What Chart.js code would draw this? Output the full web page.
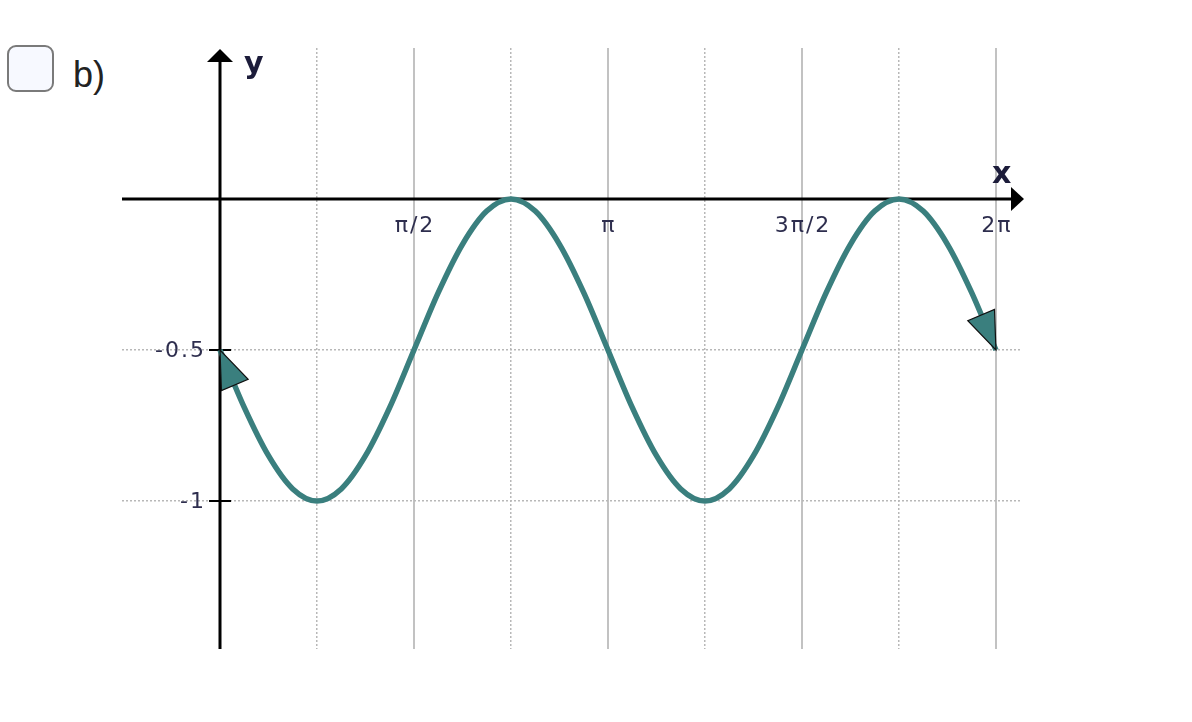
<!DOCTYPE html>
<html>
<head>
<meta charset="utf-8">
<script src="https://cdn.jsdelivr.net/npm/chart.js@4"></script>
<style>
  body { margin: 0; background: #fff; }
  #wrap { position: relative; width: 1192px; height: 722px; overflow: hidden; }
  .box { position: absolute; left: 7px; top: 45px; width: 43px; height: 43px; border: 2px solid #7a7a7a; border-radius: 9px; background: #f7f9ff; }
  .lbl { position: absolute; left: 73px; top: 54px; font: 36px "Liberation Sans", Arial, sans-serif; color: #222; }
  canvas { position: absolute; left: 0; top: 0; }
</style>
</head>
<body>
<div id="wrap">
  <div class="box"></div>
  <div class="lbl">b)</div>
  <canvas id="chart" width="1192" height="722"></canvas>
</div>
<script>
// x positions, in multiples of pi
const xPi = [0, 0.0625, 0.125, 0.1875, 0.25, 0.3125, 0.375, 0.4375, 0.5, 0.5625, 0.625, 0.6875, 0.75, 0.8125, 0.875, 0.9375,
             1, 1.0625, 1.125, 1.1875, 1.25, 1.3125, 1.375, 1.4375, 1.5, 1.5625, 1.625, 1.6875, 1.75, 1.8125, 1.875, 1.9375, 2];
// curve values
const yVals = [-0.5, -0.69, -0.85, -0.96, -1, -0.96, -0.85, -0.69, -0.5, -0.31, -0.15, -0.04, 0, -0.04, -0.15, -0.31,
               -0.5, -0.69, -0.85, -0.96, -1, -0.96, -0.85, -0.69, -0.5, -0.31, -0.15, -0.04, 0, -0.04, -0.15, -0.31, -0.5];

// grid positions and labels
const xGridVals = [0.25, 0.5, 0.75, 1, 1.25, 1.5, 1.75, 2];
const xLabelVals = [0.5, 1, 1.5, 2];
const xLabelText = ['π/2', 'π', '3π/2', '2π'];
const yGridVals = [-1, -0.5];
const yLabelText = ['-1', '-0.5'];

const teal = '#3a7f7e';
const labelColor = '#2e2e4e';

// axes, arrows, tick labels (drawn under the curve)
const axesPlugin = {
    id: 'axes',
    beforeDatasetsDraw(chart) {
        const { ctx, chartArea: a } = chart;
        const xs = chart.scales.x, ys = chart.scales.y;
        const x0 = xs.getPixelForValue(0);
        const y0 = ys.getPixelForValue(0);
        ctx.save();
        ctx.strokeStyle = '#000';
        ctx.fillStyle = '#000';
        ctx.lineWidth = 3;
        // x axis
        ctx.beginPath();
        ctx.moveTo(a.left, y0);
        ctx.lineTo(a.right - 8, y0);
        ctx.stroke();
        ctx.beginPath();
        ctx.moveTo(a.right + 4, y0);
        ctx.lineTo(a.right - 9, y0 - 12);
        ctx.lineTo(a.right - 9, y0 + 12);
        ctx.closePath();
        ctx.fill();
        // y axis
        ctx.beginPath();
        ctx.moveTo(x0, a.bottom);
        ctx.lineTo(x0, a.top + 12);
        ctx.stroke();
        ctx.beginPath();
        ctx.moveTo(x0, a.top + 1);
        ctx.lineTo(x0 - 13, a.top + 14);
        ctx.lineTo(x0 + 13, a.top + 14);
        ctx.closePath();
        ctx.fill();

        // y tick marks and labels
        ctx.lineWidth = 2;
        ctx.font = '22px "DejaVu Sans", Verdana, sans-serif';
        ctx.letterSpacing = '2px';
        ctx.fillStyle = labelColor;
        ctx.textBaseline = 'middle';
        yGridVals.forEach((v, i) => {
            const py = ys.getPixelForValue(v);
            ctx.beginPath();
            ctx.moveTo(x0 - 11, py);
            ctx.lineTo(x0 + 11, py);
            ctx.stroke();
            ctx.textAlign = 'right';
            ctx.fillText(yLabelText[i], x0 - 14, py + 1);
        });
        // x labels
        ctx.textAlign = 'center';
        xLabelVals.forEach((v, i) => {
            ctx.fillText(xLabelText[i], xs.getPixelForValue(v) + 1, y0 + 27);
        });

        // axis names
        ctx.letterSpacing = '0px';
        ctx.fillStyle = '#1c1c3a';
        ctx.font = 'bold 30px "DejaVu Sans", Verdana, sans-serif';
        ctx.textAlign = 'left';
        ctx.textBaseline = 'alphabetic';
        ctx.fillText('y', x0 + 24, a.top + 25);
        ctx.fillText('x', a.right - 28, y0 - 16);
        ctx.restore();
    }
};

// arrowheads at both ends of the curve
const arrowPlugin = {
    id: 'curveArrows',
    afterDatasetsDraw(chart) {
        const { ctx } = chart;
        const pts = chart.getDatasetMeta(0).data;
        const head = (tip, next) => {
            let dx = next.x - tip.x, dy = next.y - tip.y;
            const len = Math.hypot(dx, dy);
            dx /= len; dy /= len;
            const L = 38, W = 14.5;
            const bx = tip.x + dx * L, by = tip.y + dy * L;
            ctx.beginPath();
            ctx.moveTo(tip.x, tip.y);
            ctx.lineTo(bx - dy * W, by + dx * W);
            ctx.lineTo(bx + dy * W, by - dx * W);
            ctx.closePath();
            ctx.fillStyle = teal;
            ctx.fill();
            ctx.strokeStyle = '#111';
            ctx.lineWidth = 1.2;
            ctx.stroke();
        };
        ctx.save();
        head(pts[0], pts[1]);
        head(pts[pts.length - 1], pts[pts.length - 2]);
        ctx.restore();
    }
};

const ctx = document.getElementById('chart').getContext('2d');
new Chart(ctx, {
    type: 'line',
    data: {
        datasets: [{
            data: xPi.map((x, i) => ({ x: x, y: yVals[i] })),
            borderColor: teal,
            borderWidth: 5.5,
            pointRadius: 0,
            cubicInterpolationMode: 'monotone',
            fill: false
        }]
    },
    options: {
        responsive: false,
        animation: false,
        layout: { padding: { left: 122, right: 172, top: 48, bottom: 73 } },
        plugins: { legend: { display: false }, tooltip: { enabled: false } },
        scales: {
            x: {
                type: 'linear',
                min: -0.2526,
                max: 2.062,
                afterBuildTicks: s => { s.ticks = xGridVals.map(v => ({ value: v })); },
                ticks: { display: false },
                grid: {
                    drawTicks: false,
                    color: c => (c.tick && c.tick.value % 0.5 === 0) ? '#c2c2c2' : '#b8b8b8',
                    lineWidth: c => (c.tick && c.tick.value % 0.5 === 0) ? 2 : 1.5
                },
                border: {
                    display: false,
                    dash: c => (c.tick && c.tick.value % 0.5 === 0) ? [] : [2, 2]
                }
            },
            y: {
                type: 'linear',
                min: -1.49,
                max: 0.5,
                afterBuildTicks: s => { s.ticks = yGridVals.map(v => ({ value: v })); },
                ticks: { display: false },
                grid: { drawTicks: false, color: '#b8b8b8', lineWidth: 1.5 },
                border: { display: false, dash: [2, 2] }
            }
        }
    },
    plugins: [axesPlugin, arrowPlugin]
});
</script>
</body>
</html>
